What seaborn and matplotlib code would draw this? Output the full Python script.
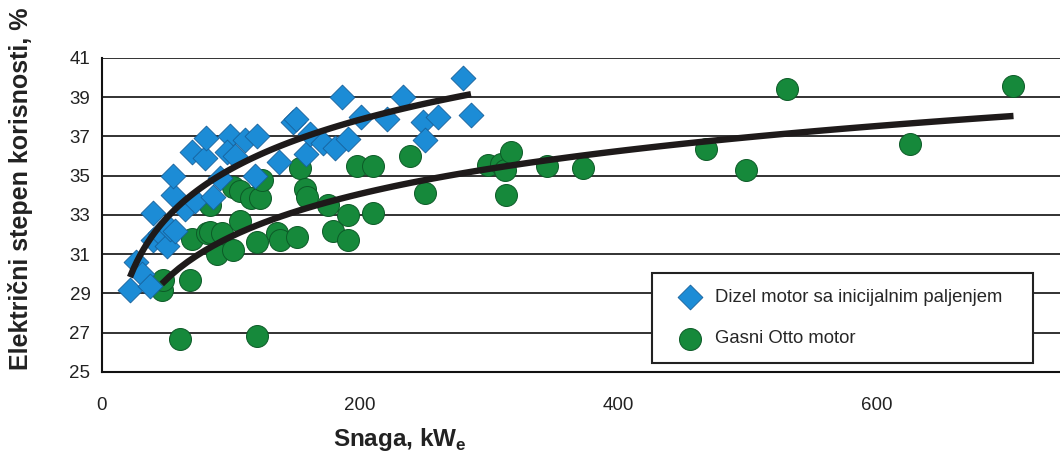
import numpy as np
import pandas as pd
import matplotlib as mpl
mpl.use("Agg")
import matplotlib.pyplot as plt
import seaborn as sns

# Data (power kWe, electrical efficiency %)
diesel_kw = [22, 27, 31, 37.5, 40, 40, 45, 50.5, 53, 57, 55.5, 55.5, 64.6, 72, 86.5,
             91.7, 70, 80, 81, 99.5, 97, 103, 111, 120, 119, 137, 148, 150.5, 158,
             161, 171.7, 180.7, 186, 191, 201, 220.8, 233.6, 249, 250.4, 260.8, 280, 286]
diesel_eff = [29.2, 30.6, 30.0, 29.4, 31.7, 33.1, 32.1, 31.4, 32.3, 32.2, 34.0, 35.0, 33.3,
              33.7, 33.9, 34.9, 36.2, 35.9, 36.9, 37.0, 36.2, 36.0, 36.8, 37.0, 35.0, 35.7,
              37.75, 37.9, 36.1, 37.1, 36.65, 36.4, 39.0, 36.85, 38.0, 37.9, 39.0, 37.75,
              36.8, 38.0, 40.0, 38.1]

gas_kw = [46.6, 47.8, 60.8, 68.5, 69.8, 81.4, 84, 84, 89, 93, 102, 102, 107, 107, 116,
          120, 120, 122.7, 124, 135.6, 138, 151, 153.6, 157.5, 159, 175.5, 179.4, 191,
          191, 198, 210, 210.4, 238.8, 250.4, 299.4, 309.5, 312, 317, 313, 345, 373,
          468, 499, 531, 626, 706]
gas_eff = [29.2, 29.7, 26.7, 29.7, 31.8, 32.1, 32.15, 33.5, 31.0, 32.1, 31.2, 34.4, 32.7,
           34.2, 33.85, 31.6, 26.85, 33.85, 34.8, 32.1, 31.7, 31.9, 35.4, 34.3, 33.9, 33.5,
           32.2, 33.0, 31.7, 35.5, 35.5, 33.1, 36.0, 34.1, 35.55, 35.6, 35.3, 36.2, 34.0,
           35.5, 35.4, 36.35, 35.3, 39.4, 36.6, 39.55]

diesel_label = "Dizel motor sa inicijalnim paljenjem"
gas_label = "Gasni Otto motor"

y_ticks = [25, 27, 29, 31, 33, 35, 37, 39, 41]
x_ticks = [0, 200, 400, 600]

sns.set_style("white")
plt.rcParams["font.family"] = ["Liberation Sans", "DejaVu Sans"]
plt.rcParams["mathtext.fontset"] = "custom"
plt.rcParams["mathtext.bf"] = "Liberation Sans:bold"
plt.rcParams["mathtext.rm"] = "Liberation Sans"

fig = plt.figure(figsize=(10.6, 4.51), dpi=100)
ax = fig.add_axes([0.0958, 0.1752, 0.9042, 0.6964])

# horizontal grid
for yv in y_ticks:
    ax.axhline(yv, color="#222222", lw=1.3, zorder=0)

sns.scatterplot(x=diesel_kw, y=diesel_eff, marker="D", s=160, color="#1C8CD6",
                edgecolor="#17609A", linewidth=0.6, label=diesel_label,
                legend=False, ax=ax, zorder=3)
sns.scatterplot(x=gas_kw, y=gas_eff, marker="o", s=250, color="#16893B",
                edgecolor="#0C5A27", linewidth=0.7, label=gas_label,
                legend=False, ax=ax, zorder=2)

# logarithmic trend lines
line_kws = dict(color="#1E1A1A", lw=4.6, solid_capstyle="butt", zorder=4)
sns.regplot(x=np.array(diesel_kw), y=np.array(diesel_eff), logx=True, ci=None,
            scatter=False, truncate=True, line_kws=line_kws, ax=ax)
sns.regplot(x=np.array(gas_kw), y=np.array(gas_eff), logx=True, ci=None,
            scatter=False, truncate=True, line_kws=line_kws, ax=ax)

ax.set_xlim(0, 742)
ax.set_ylim(25, 41)
ax.set_xticks(x_ticks)
ax.set_yticks(y_ticks)
ax.tick_params(axis="both", direction="out", length=5, width=1.5, color="#111111",
               labelsize=13.5, labelcolor="#222222", pad=3)
ax.tick_params(axis="x", pad=13)

for s in ["top", "right"]:
    ax.spines[s].set_visible(False)
for s in ["left", "bottom"]:
    ax.spines[s].set_color("#111111")
    ax.spines[s].set_linewidth(1.5)

ax.set_ylabel("Električni stepen korisnosti, %", fontsize=18, fontweight="bold",
              color="#222222")
ax.yaxis.set_label_coords(-0.0715, 0.583)
ax.set_xlabel(r"Snaga, kW$_{\mathbf{e}}$", fontsize=17.5, fontweight="bold",
              color="#222222")
ax.xaxis.set_label_coords(0.311, -0.172)

leg = ax.legend(loc="lower left", bbox_to_anchor=(0.574, 0.028, 0.398, 0.29),
                mode="expand", frameon=True, fancybox=False, fontsize=13.3,
                labelspacing=1.35, handletextpad=0.05, borderpad=0.85,
                handlelength=2.5, borderaxespad=0)
leg.get_frame().set_edgecolor("#222222")
leg.get_frame().set_linewidth(1.5)
leg.get_frame().set_facecolor("white")
leg.get_frame().set_alpha(1)
leg.set_zorder(10)

plt.savefig("out.png", dpi=100)
